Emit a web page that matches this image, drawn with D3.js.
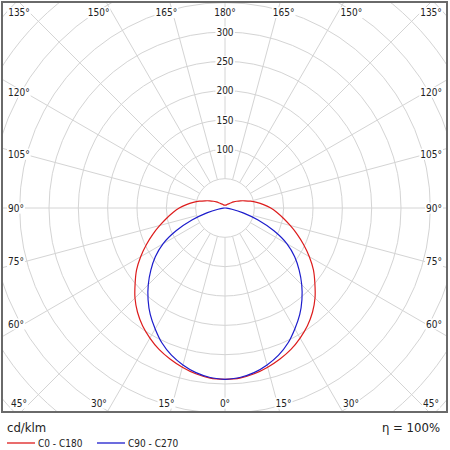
<!DOCTYPE html>
<html>
<head>
<meta charset="utf-8">
<script src="https://cdn.jsdelivr.net/npm/d3@7"></script>
<style>
    body { margin: 0; background: #fff; }
    text { font-family: "DejaVu Sans Condensed", "DejaVu Sans", sans-serif; fill: #222; }
    .grid line, .grid circle { stroke: #d4d4d4; stroke-width: 1; fill: none; }
    .curve { fill: none; stroke-width: 1.2; }
</style>
</head>
<body>
<svg id="chart" width="450" height="450"></svg>
<script>

    // gamma angles (deg) and intensities (cd/klm)
    var gammaC0 = [0, 5, 10, 15, 20, 25, 30, 35, 40, 45, 50, 55, 60, 65, 70, 75, 80, 85, 90,
        95, 100, 105, 110, 115, 120, 125, 130, 135, 140, 145, 150, 155, 160, 165, 170, 175, 180];
    var valuesC0 = [292, 291, 287, 281, 274, 266, 256, 245, 232, 217, 200, 184, 166, 148, 131, 115, 101, 89, 78,
        66, 55, 45, 36, 29, 23, 18, 14, 11, 9, 8, 7, 6, 5, 5, 5, 5, 5];

    var gammaC90 = [0, 5, 10, 15, 20, 25, 30, 35, 40, 45, 50, 55, 60, 65, 70, 75, 80, 85, 90];
    var valuesC90 = [292, 290, 285, 277, 267, 254, 238, 222, 204, 185, 165, 145, 122, 92, 60, 32, 12, 3, 0];

    var ringValues = [50, 100, 150, 200, 250, 300, 350, 400, 450, 500];
    var ringLabels = [100, 150, 200, 250, 300];
    var angleTicks = [0, 15, 30, 45, 60, 75, 90, 105, 120, 135, 150, 165, 180];

    var seriesNames = ["C0 - C180", "C90 - C270"];
    var seriesColors = ["#dd1c1c", "#1c1ccc"];

    var svg = d3.select("#chart");
    var frame = {x: 2, y: 2, w: 445, h: 410};
    var cx = 225, cy = 208;

    var r = d3.scaleLinear().domain([0, 300]).range([0, 176]);

    svg.append("clipPath").attr("id", "clip")
        .append("rect")
        .attr("x", frame.x).attr("y", frame.y)
        .attr("width", frame.w).attr("height", frame.h);

    var grid = svg.append("g").attr("class", "grid")
        .attr("clip-path", "url(#clip)");

    grid.selectAll("circle")
        .data(ringValues)
        .enter().append("circle")
        .attr("cx", cx).attr("cy", cy)
        .attr("r", function (d) { return r(d); });

    // radial spokes every 15 deg, both halves
    var spokes = [];
    angleTicks.forEach(function (g) {
        spokes.push({g: g, s: 1});
        if (g !== 0 && g !== 180) spokes.push({g: g, s: -1});
    });

    function dir(d) {
        var a = d.g * Math.PI / 180;
        return {dx: d.s * Math.sin(a), dy: Math.cos(a)};
    }

    grid.selectAll("line")
        .data(spokes)
        .enter().append("line")
        .attr("x1", function (d) { return cx + dir(d).dx * r(50); })
        .attr("y1", function (d) { return cy + dir(d).dy * r(50); })
        .attr("x2", function (d) { return cx + dir(d).dx * r(800); })
        .attr("y2", function (d) { return cy + dir(d).dy * r(800); });

    // curves
    function fullCurve(gammas, vals) {
        var pts = [];
        gammas.forEach(function (g, i) {
            pts.push([Math.PI - g * Math.PI / 180, r(vals[i])]);
        });
        for (var i = gammas.length - 2; i >= 0; i--) {
            pts.push([Math.PI + gammas[i] * Math.PI / 180, r(vals[i])]);
        }
        return pts;
    }

    var radial = d3.lineRadial()
        .angle(function (d) { return d[0]; })
        .radius(function (d) { return d[1]; })
        .curve(d3.curveCatmullRom);

    var plot = svg.append("g").attr("transform", "translate(" + cx + "," + cy + ")");

    plot.append("path")
        .attr("class", "curve")
        .attr("stroke", seriesColors[0])
        .attr("d", radial(fullCurve(gammaC0, valuesC0)));

    plot.append("path")
        .attr("class", "curve")
        .attr("stroke", seriesColors[1])
        .attr("d", radial(fullCurve(gammaC90, valuesC90)));

    // labels with white boxes
    var labels = svg.append("g");

    function boxed(t) {
        var b = t.node().getBBox();
        labels.insert("rect", function () { return t.node(); })
            .attr("x", b.x - 1).attr("y", b.y)
            .attr("width", b.width + 2).attr("height", b.height)
            .attr("fill", "#fff");
    }

    ringLabels.forEach(function (v) {
        var t = labels.append("text")
            .attr("x", cx).attr("y", cy - r(v))
            .attr("dy", "0.36em")
            .attr("text-anchor", "middle")
            .attr("font-size", 10)
            .text(v);
        boxed(t);
    });

    spokes.forEach(function (d) {
        var v = dir(d);
        var tx = Math.abs(v.dx) > 1e-6 ? 207 / Math.abs(v.dx) : Infinity;
        var ty = Math.abs(v.dy) > 1e-6 ? (v.dy > 0 ? 195 : 195.5) / Math.abs(v.dy) : Infinity;
        var x, y, anchor;
        if (tx < ty) {
            x = d.s > 0 ? 442 : 8;
            y = cy + v.dy * tx * 0.97 + 3.6;
            anchor = d.s > 0 ? "end" : "start";
        } else {
            var off = Math.max(-206, Math.min(206, v.dx * ty * 1.12));
            x = cx + off;
            y = (v.dy > 0 ? 403 : 12.5) + 3.6;
            anchor = "middle";
        }
        var t = labels.append("text")
            .attr("x", x).attr("y", y)
            .attr("text-anchor", anchor)
            .attr("font-size", 10)
            .text(d.g + "°");
        boxed(t);
    });

    svg.append("rect")
        .attr("x", frame.x).attr("y", frame.y)
        .attr("width", frame.w).attr("height", frame.h)
        .attr("fill", "none")
        .attr("stroke", "#6a6a6a")
        .attr("stroke-width", 2);

    // footer
    svg.append("text")
        .attr("x", 7).attr("y", 432)
        .attr("font-size", 13)
        .text("cd/klm");

    svg.append("text")
        .attr("x", 440).attr("y", 432)
        .attr("text-anchor", "end")
        .attr("font-size", 13)
        .text("η = 100%");

    var legend = svg.selectAll(".legend")
        .data(seriesNames)
        .enter().append("g")
        .attr("class", "legend")
        .attr("transform", function (d, i) { return "translate(" + (7 + i * 90) + ",443)"; });

    legend.append("line")
        .attr("x1", 0).attr("x2", 28)
        .attr("stroke", function (d, i) { return seriesColors[i]; })
        .attr("stroke-width", 1.3);

    legend.append("text")
        .attr("x", 31).attr("y", 3.5)
        .attr("font-size", 10)
        .text(function (d) { return d; });

</script>
</body>
</html>
